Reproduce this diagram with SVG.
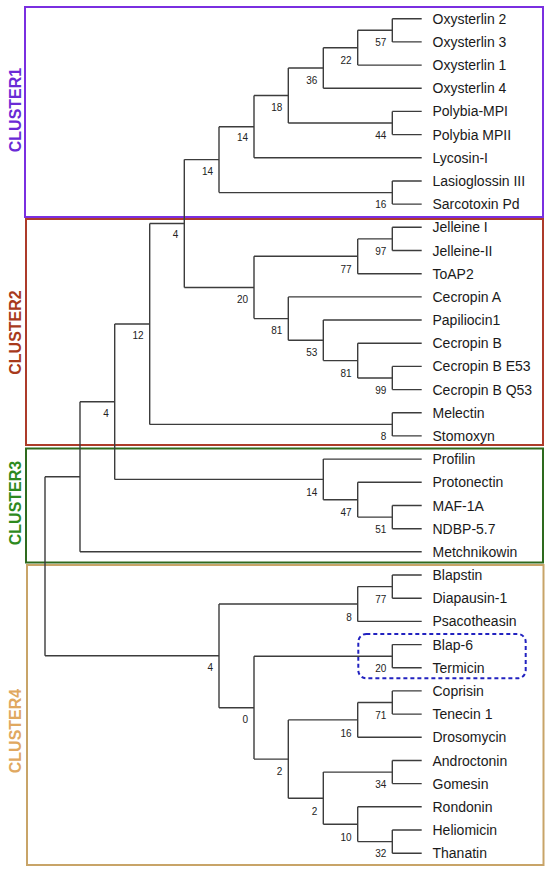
<svg xmlns="http://www.w3.org/2000/svg" width="550" height="871" viewBox="0 0 550 871">
<style>
.e{fill:none;stroke:#3c3c3c;stroke-width:1.4}
.lf{font-family:"Liberation Sans",Arial,sans-serif;font-size:14px;fill:#1a1a1a}
.bs{font-family:"Liberation Sans",Arial,sans-serif;font-size:10px;fill:#222;text-anchor:end}
.cl{font-family:"Liberation Sans",Arial,sans-serif;font-size:16px;font-weight:bold;text-anchor:middle}
.box{fill:none;stroke-width:2}
</style>
<rect width="550" height="871" fill="#fff"/>
<g id="clusters">
<g id="cluster1"><rect class="box" x="25" y="7" width="518" height="210" stroke="#7a2fe0"/><text class="cl" transform="translate(20.5,110) rotate(-90)" fill="#6a2ad6">CLUSTER1</text></g>
<g id="cluster2"><rect class="box" x="26" y="219" width="517" height="226" stroke="#ad3b2a"/><text class="cl" transform="translate(20.5,332.5) rotate(-90)" fill="#a83a1c">CLUSTER2</text></g>
<g id="cluster3"><rect class="box" x="26" y="448.5" width="517" height="114" stroke="#2e6a1e"/><text class="cl" transform="translate(20.5,503) rotate(-90)" fill="#2e8a1e">CLUSTER3</text></g>
<g id="cluster4"><rect class="box" x="27" y="565" width="516.5" height="300" stroke="#c8a468"/><text class="cl" transform="translate(20.5,731) rotate(-90)" fill="#e0a860">CLUSTER4</text></g>
</g>
<g id="highlight"><rect x="358.3" y="634" width="167.4" height="44.3" rx="8" fill="none" stroke="#2222c0" stroke-width="2" stroke-dasharray="4 3"/></g>
<g id="connectors">
<path class="e" d="M392.3,18.7V41.9M392.3,18.7H421.7M392.3,41.9H421.7"/>
<path class="e" d="M357.7,30.3V65.1M357.7,30.3H392.3M357.7,65.1H421.7"/>
<path class="e" d="M323.3,47.7V88.2M323.3,47.7H357.7M323.3,88.2H421.7"/>
<path class="e" d="M392.3,111.4V134.6M392.3,111.4H421.7M392.3,134.6H421.7"/>
<path class="e" d="M288.3,68V123M288.3,68H323.3M288.3,123H392.3"/>
<path class="e" d="M254,95.5V157.8M254,95.5H288.3M254,157.8H421.7"/>
<path class="e" d="M392.3,181V204.1M392.3,181H421.7M392.3,204.1H421.7"/>
<path class="e" d="M219,126.7V192.6M219,126.7H254M219,192.6H392.3"/>
<path class="e" d="M392.3,227.3V250.5M392.3,227.3H421.7M392.3,250.5H421.7"/>
<path class="e" d="M357.7,238.9V273.7M357.7,238.9H392.3M357.7,273.7H421.7"/>
<path class="e" d="M392.3,366.4V389.6M392.3,366.4H421.7M392.3,389.6H421.7"/>
<path class="e" d="M357.7,343.2V378M357.7,343.2H421.7M357.7,378H392.3"/>
<path class="e" d="M323.3,320V360.6M323.3,320H421.7M323.3,360.6H357.7"/>
<path class="e" d="M288.3,296.9V340.3M288.3,296.9H421.7M288.3,340.3H323.3"/>
<path class="e" d="M254,256.3V318.6M254,256.3H357.7M254,318.6H288.3"/>
<path class="e" d="M184.3,159.6V287.5M184.3,159.6H219M184.3,287.5H254"/>
<path class="e" d="M392.3,412.8V435.9M392.3,412.8H421.7M392.3,435.9H421.7"/>
<path class="e" d="M149.7,223.5V424.4M149.7,223.5H184.3M149.7,424.4H392.3"/>
<path class="e" d="M392.3,505.5V528.7M392.3,505.5H421.7M392.3,528.7H421.7"/>
<path class="e" d="M357.7,482.3V517.1M357.7,482.3H421.7M357.7,517.1H392.3"/>
<path class="e" d="M323.3,459.1V499.7M323.3,459.1H421.7M323.3,499.7H357.7"/>
<path class="e" d="M114.7,324V479.4M114.7,324H149.7M114.7,479.4H323.3"/>
<path class="e" d="M80,401.7V551.8M80,401.7H114.7M80,551.8H421.7"/>
<path class="e" d="M392.3,575V598.2M392.3,575H421.7M392.3,598.2H421.7"/>
<path class="e" d="M357.7,586.6V621.4M357.7,586.6H392.3M357.7,621.4H421.7"/>
<path class="e" d="M392.3,644.6V667.7M392.3,644.6H421.7M392.3,667.7H421.7"/>
<path class="e" d="M392.3,690.9V714.1M392.3,690.9H421.7M392.3,714.1H421.7"/>
<path class="e" d="M357.7,702.5V737.3M357.7,702.5H392.3M357.7,737.3H421.7"/>
<path class="e" d="M392.3,760.5V783.6M392.3,760.5H421.7M392.3,783.6H421.7"/>
<path class="e" d="M392.3,830V853.2M392.3,830H421.7M392.3,853.2H421.7"/>
<path class="e" d="M357.7,806.8V841.6M357.7,806.8H421.7M357.7,841.6H392.3"/>
<path class="e" d="M323.3,772.1V824.2M323.3,772.1H392.3M323.3,824.2H357.7"/>
<path class="e" d="M288.3,719.9V798.2M288.3,719.9H357.7M288.3,798.2H323.3"/>
<path class="e" d="M254,656.2V759.1M254,656.2H392.3M254,759.1H288.3"/>
<path class="e" d="M219,604V707.7M219,604H357.7M219,707.7H254"/>
<path class="e" d="M45,476.8V655.8M45,476.8H80M45,655.8H219"/>
</g>
<g id="support">
<g id="n1"><text class="bs" x="386.3" y="46.3">57</text></g>
<g id="n2"><text class="bs" x="351.7" y="63.7">22</text></g>
<g id="n3"><text class="bs" x="317.3" y="84">36</text></g>
<g id="n4"><text class="bs" x="386.3" y="139">44</text></g>
<g id="n5"><text class="bs" x="282.3" y="111">18</text></g>
<g id="n6"><text class="bs" x="248" y="141">14</text></g>
<g id="n7"><text class="bs" x="386.3" y="208">16</text></g>
<g id="n8"><text class="bs" x="213" y="175">14</text></g>
<g id="m1"><text class="bs" x="386.3" y="255">97</text></g>
<g id="m2"><text class="bs" x="351.7" y="272.5">77</text></g>
<g id="m3"><text class="bs" x="386.3" y="394">99</text></g>
<g id="m4"><text class="bs" x="351.7" y="377">81</text></g>
<g id="m5"><text class="bs" x="317.3" y="356.3">53</text></g>
<g id="m6"><text class="bs" x="282.3" y="334.3">81</text></g>
<g id="m7"><text class="bs" x="248" y="303">20</text></g>
<g id="m8"><text class="bs" x="178.3" y="238">4</text></g>
<g id="m9"><text class="bs" x="386.3" y="440">8</text></g>
<g id="m10"><text class="bs" x="143.7" y="339">12</text></g>
<g id="p1"><text class="bs" x="386.3" y="533">51</text></g>
<g id="p2"><text class="bs" x="351.7" y="515.5">47</text></g>
<g id="p3"><text class="bs" x="317.3" y="496">14</text></g>
<g id="p4"><text class="bs" x="108.7" y="416.5">4</text></g>
<g id="q1"><text class="bs" x="386.3" y="603">77</text></g>
<g id="q2"><text class="bs" x="351.7" y="620.5">8</text></g>
<g id="q3"><text class="bs" x="386.3" y="671.7">20</text></g>
<g id="q4"><text class="bs" x="386.3" y="719">71</text></g>
<g id="q5"><text class="bs" x="351.7" y="736.5">16</text></g>
<g id="q6"><text class="bs" x="386.3" y="788">34</text></g>
<g id="q7"><text class="bs" x="386.3" y="857">32</text></g>
<g id="q8"><text class="bs" x="351.7" y="840.5">10</text></g>
<g id="q9"><text class="bs" x="317.3" y="814.5">2</text></g>
<g id="q10"><text class="bs" x="282.3" y="774.5">2</text></g>
<g id="q11"><text class="bs" x="248" y="723">0</text></g>
<g id="q12"><text class="bs" x="213" y="670.5">4</text></g>
</g>
<g id="leaves">
<g id="oxysterlin2"><text class="lf" x="432.5" y="23.7">Oxysterlin 2</text></g>
<g id="oxysterlin3"><text class="lf" x="432.5" y="46.9">Oxysterlin 3</text></g>
<g id="oxysterlin1"><text class="lf" x="432.5" y="70.1">Oxysterlin 1</text></g>
<g id="oxysterlin4"><text class="lf" x="432.5" y="93.2">Oxysterlin 4</text></g>
<g id="polybia-mpi"><text class="lf" x="432.5" y="116.4">Polybia-MPI</text></g>
<g id="polybia-mpii"><text class="lf" x="432.5" y="139.6">Polybia MPII</text></g>
<g id="lycosin"><text class="lf" x="432.5" y="162.8">Lycosin-I</text></g>
<g id="lasioglossin"><text class="lf" x="432.5" y="186">Lasioglossin III</text></g>
<g id="sarcotoxin"><text class="lf" x="432.5" y="209.1">Sarcotoxin Pd</text></g>
<g id="jelleine1"><text class="lf" x="432.5" y="232.3">Jelleine I</text></g>
<g id="jelleine2"><text class="lf" x="432.5" y="255.5">Jelleine-II</text></g>
<g id="toap2"><text class="lf" x="432.5" y="278.7">ToAP2</text></g>
<g id="cecropinA"><text class="lf" x="432.5" y="301.9">Cecropin A</text></g>
<g id="papiliocin1"><text class="lf" x="432.5" y="325">Papiliocin1</text></g>
<g id="cecropinB"><text class="lf" x="432.5" y="348.2">Cecropin B</text></g>
<g id="cecropinBE53"><text class="lf" x="432.5" y="371.4">Cecropin B E53</text></g>
<g id="cecropinBQ53"><text class="lf" x="432.5" y="394.6">Cecropin B Q53</text></g>
<g id="melectin"><text class="lf" x="432.5" y="417.8">Melectin</text></g>
<g id="stomoxyn"><text class="lf" x="432.5" y="440.9">Stomoxyn</text></g>
<g id="profilin"><text class="lf" x="432.5" y="464.1">Profilin</text></g>
<g id="protonectin"><text class="lf" x="432.5" y="487.3">Protonectin</text></g>
<g id="maf1a"><text class="lf" x="432.5" y="510.5">MAF-1A</text></g>
<g id="ndbp57"><text class="lf" x="432.5" y="533.7">NDBP-5.7</text></g>
<g id="metchnikowin"><text class="lf" x="432.5" y="556.8">Metchnikowin</text></g>
<g id="blapstin"><text class="lf" x="432.5" y="580">Blapstin</text></g>
<g id="diapausin1"><text class="lf" x="432.5" y="603.2">Diapausin-1</text></g>
<g id="psacotheasin"><text class="lf" x="432.5" y="626.4">Psacotheasin</text></g>
<g id="blap6"><text class="lf" x="432.5" y="649.6">Blap-6</text></g>
<g id="termicin"><text class="lf" x="432.5" y="672.7">Termicin</text></g>
<g id="coprisin"><text class="lf" x="432.5" y="695.9">Coprisin</text></g>
<g id="tenecin1"><text class="lf" x="432.5" y="719.1">Tenecin 1</text></g>
<g id="drosomycin"><text class="lf" x="432.5" y="742.3">Drosomycin</text></g>
<g id="androctonin"><text class="lf" x="432.5" y="765.5">Androctonin</text></g>
<g id="gomesin"><text class="lf" x="432.5" y="788.6">Gomesin</text></g>
<g id="rondonin"><text class="lf" x="432.5" y="811.8">Rondonin</text></g>
<g id="heliomicin"><text class="lf" x="432.5" y="835">Heliomicin</text></g>
<g id="thanatin"><text class="lf" x="432.5" y="858.2">Thanatin</text></g>
</g>
</svg>
